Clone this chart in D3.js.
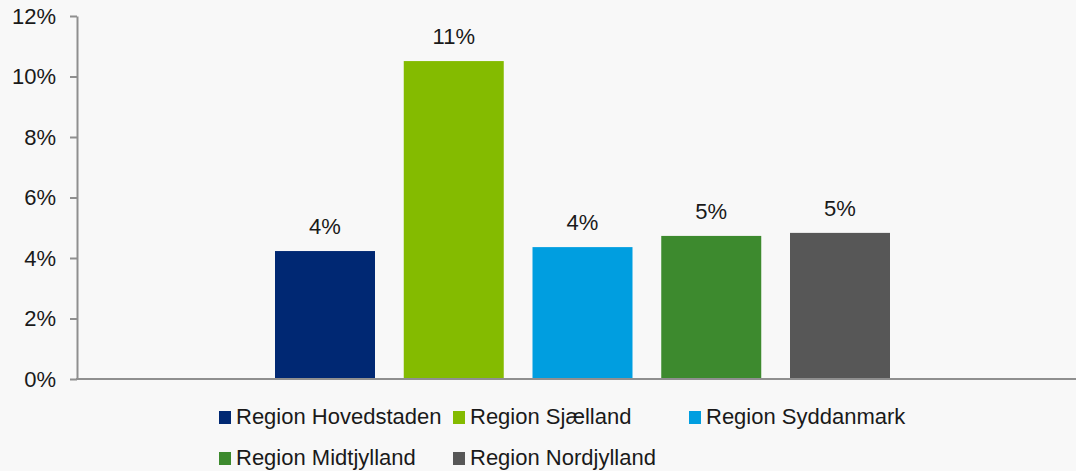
<!DOCTYPE html>
<html><head><meta charset="utf-8">
<script src="https://cdn.jsdelivr.net/npm/d3@7"></script>
<style>
html,body{margin:0;padding:0;background:#f8f8f8;}
svg{display:block;font-family:Arial,"Liberation Sans",sans-serif;}
</style></head>
<body><svg id="c" width="1076" height="471"></svg>
<script>
const series = ["Region Hovedstaden","Region Sjælland","Region Syddanmark","Region Midtjylland","Region Nordjylland"];
const values = [0.0423, 0.1051, 0.0436, 0.0473, 0.0483];
const labels = ["4%","11%","4%","5%","5%"];
const colors = ["#002873","#84bb00","#009ee0","#3d8a2e","#575757"];
const yTicks = [0,0.02,0.04,0.06,0.08,0.10,0.12];

const svg = d3.select("#c");
const W = 1076, H = 471;
svg.append("rect").attr("width",W).attr("height",H).attr("fill","#f8f8f8");

const y = d3.scaleLinear().domain([0,0.12]).range([379,16]);
const x = d3.scaleBand().domain(series).range([275,890]).paddingInner(0.2233).paddingOuter(0);

// bars
svg.selectAll("rect.bar").data(series).join("rect")
  .attr("class","bar")
  .attr("x",d=>x(d)).attr("width",x.bandwidth())
  .attr("y",(d,i)=>y(values[i])).attr("height",(d,i)=>y(0)-y(values[i]))
  .attr("fill",(d,i)=>colors[i]);

// value labels
svg.selectAll("text.val").data(series).join("text")
  .attr("class","val")
  .attr("x",d=>x(d)+x.bandwidth()/2)
  .attr("y",(d,i)=>y(values[i])-17)
  .attr("text-anchor","middle").attr("font-size","22px").attr("fill","#1a1a1a")
  .text((d,i)=>labels[i]);

// y axis
const yAxis = d3.axisLeft(y).tickValues(yTicks).tickFormat(d3.format(".0%")).tickSize(7).tickSizeOuter(0).tickPadding(14);
const ga = svg.append("g").attr("transform","translate(77,0)").call(yAxis);
ga.select(".domain").attr("stroke","#8f8f8f").attr("stroke-width",2);
ga.selectAll(".tick line").attr("stroke","#8f8f8f").attr("stroke-width",2);
ga.selectAll(".tick text").attr("font-size","22px").attr("fill","#1a1a1a").attr("font-family","Arial,'Liberation Sans',sans-serif");

// x axis line
svg.append("line").attr("x1",76).attr("x2",W).attr("y1",y(0)).attr("y2",y(0))
  .attr("stroke","#8f8f8f").attr("stroke-width",2);

// legend
const colX = [219,453,689];
const rowY = [411,452];
const lg = svg.selectAll("g.leg").data(series).join("g").attr("class","leg")
  .attr("transform",(d,i)=>`translate(${colX[i%3]},${rowY[Math.floor(i/3)]})`);
lg.append("rect").attr("width",12).attr("height",13).attr("fill",(d,i)=>colors[i]);
lg.append("text").attr("x",17).attr("y",13).attr("font-size","22px").attr("fill","#1a1a1a").text(d=>d);
</script></body></html>
